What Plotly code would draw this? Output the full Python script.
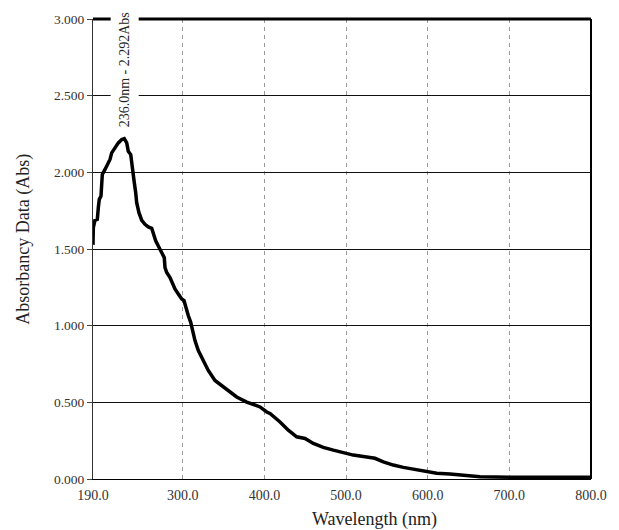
import plotly.graph_objects as go

wavelength_nm = [190.0, 190.4, 192.4, 195.3, 196.5, 197.7, 199.8, 200.7, 201.4, 204.7,
                 208.0, 210.8, 212.9, 216.9, 221.0, 225.2, 228.3, 231.3, 233.2, 236.2,
                 238.1, 239.4, 240.6, 242.3, 243.5, 246.3, 249.7, 253.7, 257.7, 261.9,
                 263.9, 266.8, 270.0, 274.2, 277.3, 278.2, 280.3, 284.3, 287.1, 290.4,
                 294.5, 298.7, 301.5, 303.9, 306.7, 309.7, 312.1, 314.9, 319.0, 325.1,
                 331.2, 339.4, 347.6, 355.7, 366.0, 378.3, 390.5, 394.6, 402.8, 406.8,
                 419.1, 429.2, 439.5, 449.7, 459.9, 472.1, 484.4, 496.6, 508.8, 523.2,
                 535.4, 545.6, 557.8, 570.1, 582.3, 594.6, 611.0, 627.3, 639.5, 664.0,
                 713.0, 798.8]
absorbance = [1.527, 1.639, 1.687, 1.694, 1.769, 1.824, 1.845, 1.932, 1.986, 2.019,
              2.051, 2.084, 2.127, 2.159, 2.192, 2.214, 2.220, 2.192, 2.138, 2.116,
              2.051, 1.986, 1.932, 1.867, 1.802, 1.737, 1.687, 1.661, 1.644, 1.635,
              1.596, 1.553, 1.520, 1.477, 1.444, 1.379, 1.347, 1.314, 1.272, 1.239,
              1.207, 1.174, 1.163, 1.109, 1.066, 1.022, 0.968, 0.903, 0.838, 0.773,
              0.708, 0.643, 0.611, 0.578, 0.535, 0.502, 0.476, 0.470, 0.437, 0.427,
              0.372, 0.318, 0.275, 0.264, 0.232, 0.206, 0.188, 0.173, 0.156, 0.145,
              0.135, 0.112, 0.091, 0.076, 0.063, 0.052, 0.037, 0.032, 0.026, 0.015,
              0.011, 0.011]

x_ticks = [190, 300, 400, 500, 600, 700, 800]
x_ticklabels = ["190.0", "300.0", "400.0", "500.0", "600.0", "700.0", "800.0"]
y_ticks = [0, 0.5, 1.0, 1.5, 2.0, 2.5, 3.0]
y_ticklabels = ["0.000", "0.500", "1.000", "1.500", "2.000", "2.500", "3.000"]

peak_label = "236.0nm - 2.292Abs"
peak_x = 228.3
peak_y = 2.22

x_title = "Wavelength (nm)"
y_title = "Absorbancy Data (Abs)"

serif = "Liberation Serif"

fig = go.Figure()
fig.add_trace(go.Scatter(x=wavelength_nm, y=absorbance, mode="lines",
                         line=dict(color="black", width=3.5), showlegend=False,
                         hoverinfo="skip"))

fig.update_layout(
    width=619, height=530,
    margin=dict(l=93, r=28, t=17, b=51),
    plot_bgcolor="white", paper_bgcolor="white",
    font=dict(family=serif, color="#333333", size=13),
    xaxis=dict(
        range=[190, 800], tickvals=x_ticks, ticktext=x_ticklabels,
        showgrid=True, gridcolor="#9a9a9a", gridwidth=1, griddash="4px,4px",
        showline=True, linecolor="black", linewidth=1.2, zeroline=False,
        ticks="outside", ticklen=3, tickcolor="white",
        tickfont=dict(family=serif, size=14, color="#333333"),
    ),
    yaxis=dict(
        range=[0, 3], tickvals=y_ticks, ticktext=y_ticklabels,
        showgrid=True, gridcolor="#111111", gridwidth=1,
        showline=True, linecolor="#333333", linewidth=1, zeroline=False,
        ticks="outside", ticklen=5, tickcolor="#444444",
        tickfont=dict(family=serif, size=13.5, color="#333333"),
    ),
    shapes=[
        dict(type="line", xref="paper", yref="paper", x0=0, x1=1, y0=1, y1=1,
             line=dict(color="black", width=3)),
        dict(type="line", xref="paper", yref="paper", x0=1, x1=1, y0=0, y1=1,
             line=dict(color="black", width=2)),
    ],
    annotations=[
        dict(x=peak_x, y=peak_y, xref="x", yref="y", text=peak_label, showarrow=False,
             textangle=-90, xanchor="center", yanchor="bottom", yshift=4,
             bgcolor="white", borderpad=6,
             font=dict(family=serif, size=14, color="#222222")),
        dict(x=0.566, y=-0.089, xref="paper", yref="paper", text=x_title, showarrow=False,
             xanchor="center", yanchor="middle",
             font=dict(family=serif, size=18, color="#222222")),
        dict(x=-0.139, y=0.522, xref="paper", yref="paper", text=y_title, showarrow=False,
             textangle=-90, xanchor="center", yanchor="middle",
             font=dict(family=serif, size=18, color="#222222")),
    ],
)

fig.write_html("out.html")
